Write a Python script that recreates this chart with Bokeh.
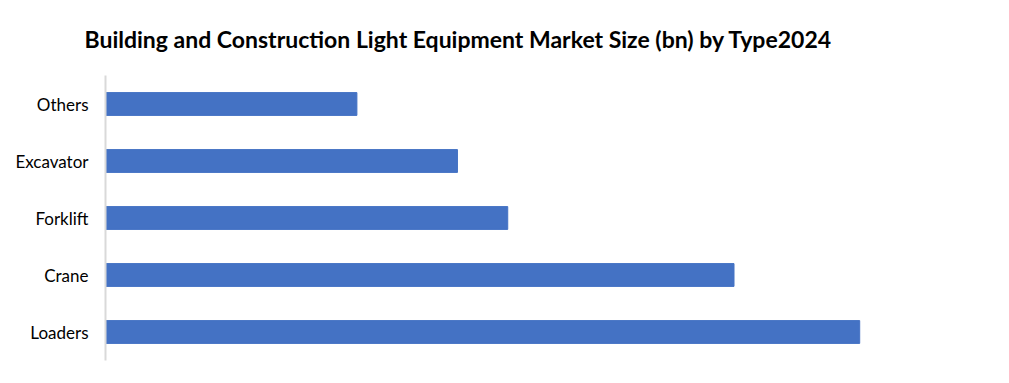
from bokeh.plotting import figure
from bokeh.models import FactorRange, Range1d
from bokeh.embed import file_html
from bokeh.resources import INLINE

categories = ["Loaders", "Crane", "Forklift", "Excavator", "Others"]
values = [7.5, 6.25, 4.0, 3.5, 2.5]
title_text = "Building and Construction  Light Equipment Market Size (bn) by Type2024"

p = figure(width=1009, height=383, output_backend="svg", toolbar_location=None,
           y_range=FactorRange(factors=categories), x_range=Range1d(0, 8.9),
           x_axis_type=None, title=title_text,
           min_border_left=105, min_border_right=9, min_border_top=72, min_border_bottom=23)

p.hbar(y=categories, right=values, left=0, height=0.4, color="#4472C4")

p.title.text_font = "Lato"
p.title.text_font_style = "bold"
p.title.text_font_size = "23px"
p.title.align = "left"
p.title.offset = -21
p.title.standoff = 45
p.title.text_color = "#000000"

ax = p.yaxis[0]
ax.axis_line_color = "#d9d9d9"
ax.axis_line_width = 2
ax.major_tick_line_color = None
ax.minor_tick_line_color = None
ax.major_label_text_font = "Lato"
ax.major_label_text_font_size = "17px"
ax.major_label_text_color = "#000000"
ax.major_label_standoff = 11

p.xgrid.visible = False
p.ygrid.visible = False
p.outline_line_color = None

open("out.html", "w").write(file_html(p, INLINE))
